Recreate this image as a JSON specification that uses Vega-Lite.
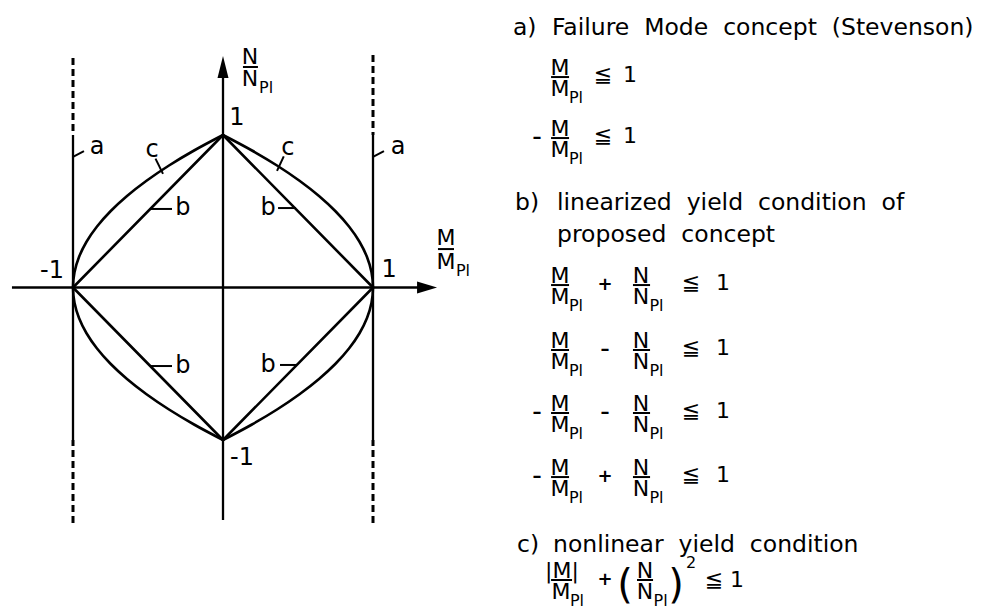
{
  "$schema": "https://vega.github.io/schema/vega-lite/v6.json",
  "width": 984,
  "height": 614,
  "autosize": {"type": "fit", "contains": "padding"},
  "padding": 0,
  "background": "white",
  "config": {"view": {"stroke": null}},
  "datasets": {
    "axes": [
      {"x": -1.407, "y": 0, "x2": 1.38, "y2": 0},
      {"x": 0, "y": -1.525, "x2": 0, "y2": 1.426},
      {"x": -1, "y": -1, "x2": -1, "y2": 1},
      {"x": 1, "y": -1, "x2": 1, "y2": 1}
    ],
    "dashes": [
      {"x": -1, "y": 1.505, "x2": -1, "y2": 1},
      {"x": 1, "y": 1.525, "x2": 1, "y2": 1},
      {"x": -1, "y": -1.544, "x2": -1, "y2": -1},
      {"x": 1, "y": -1.544, "x2": 1, "y2": -1}
    ],
    "diamond": [
      {"x": -1, "y": 0, "x2": 0, "y2": 1},
      {"x": 0, "y": 1, "x2": 1, "y2": 0},
      {"x": 1, "y": 0, "x2": 0, "y2": -1},
      {"x": 0, "y": -1, "x2": -1, "y2": 0}
    ],
    "leaders": [
      {"x": -1, "y": 0.856, "x2": -0.927, "y2": 0.895},
      {"x": 1, "y": 0.856, "x2": 1.073, "y2": 0.895},
      {"x": -0.4, "y": 0.745, "x2": -0.45, "y2": 0.845},
      {"x": 0.36, "y": 0.765, "x2": 0.405, "y2": 0.86},
      {"x": -0.487, "y": 0.515, "x2": -0.34, "y2": 0.515},
      {"x": 0.367, "y": 0.521, "x2": 0.487, "y2": 0.521},
      {"x": -0.487, "y": -0.515, "x2": -0.34, "y2": -0.515},
      {"x": 0.38, "y": -0.508, "x2": 0.493, "y2": -0.508}
    ],
    "bars": [
      {"x": 2.187, "x2": 2.307, "y": 1.38, "y2": 1.38},
      {"x": 2.187, "x2": 2.307, "y": 0.98, "y2": 0.98},
      {"x": 2.187, "x2": 2.307, "y": 0.016, "y2": 0.016},
      {"x": 2.733, "x2": 2.847, "y": 0.016, "y2": 0.016},
      {"x": 2.187, "x2": 2.307, "y": -0.41, "y2": -0.41},
      {"x": 2.733, "x2": 2.847, "y": -0.41, "y2": -0.41},
      {"x": 2.187, "x2": 2.307, "y": -0.823, "y2": -0.823},
      {"x": 2.733, "x2": 2.847, "y": -0.823, "y2": -0.823},
      {"x": 2.187, "x2": 2.307, "y": -1.243, "y2": -1.243},
      {"x": 2.733, "x2": 2.847, "y": -1.243, "y2": -1.243},
      {"x": 2.187, "x2": 2.327, "y": -1.918, "y2": -1.918},
      {"x": 2.76, "x2": 2.867, "y": -1.918, "y2": -1.918},
      {"x": 1.433, "x2": 1.54, "y": 0.252, "y2": 0.252},
      {"x": 0.133, "x2": 0.233, "y": 1.446, "y2": 1.446}
    ],
    "arrows": [
      {"x": 1.427, "y": 0, "dir": "right"},
      {"x": 0, "y": 1.518, "dir": "up"}
    ],
    "curve": [
      {"side": "right", "y": -1, "x": 0},
      {"side": "right", "y": -0.9, "x": 0.19},
      {"side": "right", "y": -0.8, "x": 0.36},
      {"side": "right", "y": -0.7, "x": 0.51},
      {"side": "right", "y": -0.6, "x": 0.64},
      {"side": "right", "y": -0.5, "x": 0.75},
      {"side": "right", "y": -0.4, "x": 0.84},
      {"side": "right", "y": -0.3, "x": 0.91},
      {"side": "right", "y": -0.2, "x": 0.96},
      {"side": "right", "y": -0.1, "x": 0.99},
      {"side": "right", "y": 0, "x": 1},
      {"side": "right", "y": 0.1, "x": 0.99},
      {"side": "right", "y": 0.2, "x": 0.96},
      {"side": "right", "y": 0.3, "x": 0.91},
      {"side": "right", "y": 0.4, "x": 0.84},
      {"side": "right", "y": 0.5, "x": 0.75},
      {"side": "right", "y": 0.6, "x": 0.64},
      {"side": "right", "y": 0.7, "x": 0.51},
      {"side": "right", "y": 0.8, "x": 0.36},
      {"side": "right", "y": 0.9, "x": 0.19},
      {"side": "right", "y": 1, "x": 0},
      {"side": "left", "y": -1, "x": 0},
      {"side": "left", "y": -0.9, "x": -0.19},
      {"side": "left", "y": -0.8, "x": -0.36},
      {"side": "left", "y": -0.7, "x": -0.51},
      {"side": "left", "y": -0.6, "x": -0.64},
      {"side": "left", "y": -0.5, "x": -0.75},
      {"side": "left", "y": -0.4, "x": -0.84},
      {"side": "left", "y": -0.3, "x": -0.91},
      {"side": "left", "y": -0.2, "x": -0.96},
      {"side": "left", "y": -0.1, "x": -0.99},
      {"side": "left", "y": 0, "x": -1},
      {"side": "left", "y": 0.1, "x": -0.99},
      {"side": "left", "y": 0.2, "x": -0.96},
      {"side": "left", "y": 0.3, "x": -0.91},
      {"side": "left", "y": 0.4, "x": -0.84},
      {"side": "left", "y": 0.5, "x": -0.75},
      {"side": "left", "y": 0.6, "x": -0.64},
      {"side": "left", "y": 0.7, "x": -0.51},
      {"side": "left", "y": 0.8, "x": -0.36},
      {"side": "left", "y": 0.9, "x": -0.19},
      {"side": "left", "y": 1, "x": 0}
    ],
    "labels": [
      {"x": 0.093, "y": 1.111, "t": "1"},
      {"x": -1.14, "y": 0.108, "t": "-1"},
      {"x": 1.107, "y": 0.115, "t": "1"},
      {"x": 0.127, "y": -1.118, "t": "-1"},
      {"x": -0.84, "y": 0.921, "t": "a"},
      {"x": 1.167, "y": 0.921, "t": "a"},
      {"x": -0.473, "y": 0.9, "t": "c"},
      {"x": 0.433, "y": 0.913, "t": "c"},
      {"x": -0.267, "y": 0.521, "t": "b"},
      {"x": 0.3, "y": 0.521, "t": "b"},
      {"x": -0.267, "y": -0.515, "t": "b"},
      {"x": 0.3, "y": -0.508, "t": "b"}
    ],
    "formula": [
      {"x": 1.487, "y": 0.325, "t": "M"},
      {"x": 1.487, "y": 0.167, "t": "M"},
      {"x": 0.18, "y": 1.511, "t": "N"},
      {"x": 0.18, "y": 1.367, "t": "N"},
      {"x": 2.247, "y": 1.439, "t": "M"},
      {"x": 2.247, "y": 1.302, "t": "M"},
      {"x": 2.533, "y": 1.393, "t": "≦"},
      {"x": 2.713, "y": 1.393, "t": "1"},
      {"x": 2.247, "y": 1.039, "t": "M"},
      {"x": 2.247, "y": 0.902, "t": "M"},
      {"x": 2.533, "y": 0.993, "t": "≦"},
      {"x": 2.713, "y": 0.993, "t": "1"},
      {"x": 2.247, "y": 0.075, "t": "M"},
      {"x": 2.247, "y": -0.062, "t": "M"},
      {"x": 2.787, "y": 0.075, "t": "N"},
      {"x": 2.787, "y": -0.062, "t": "N"},
      {"x": 3.12, "y": 0.03, "t": "≦"},
      {"x": 3.333, "y": 0.03, "t": "1"},
      {"x": 2.247, "y": -0.351, "t": "M"},
      {"x": 2.247, "y": -0.489, "t": "M"},
      {"x": 2.787, "y": -0.351, "t": "N"},
      {"x": 2.787, "y": -0.489, "t": "N"},
      {"x": 3.12, "y": -0.397, "t": "≦"},
      {"x": 3.333, "y": -0.397, "t": "1"},
      {"x": 2.247, "y": -0.764, "t": "M"},
      {"x": 2.247, "y": -0.902, "t": "M"},
      {"x": 2.787, "y": -0.764, "t": "N"},
      {"x": 2.787, "y": -0.902, "t": "N"},
      {"x": 3.12, "y": -0.81, "t": "≦"},
      {"x": 3.333, "y": -0.81, "t": "1"},
      {"x": 2.247, "y": -1.184, "t": "M"},
      {"x": 2.247, "y": -1.321, "t": "M"},
      {"x": 2.787, "y": -1.184, "t": "N"},
      {"x": 2.787, "y": -1.321, "t": "N"},
      {"x": 3.12, "y": -1.23, "t": "≦"},
      {"x": 3.333, "y": -1.23, "t": "1"},
      {"x": 2.26, "y": -1.859, "t": "|M|"},
      {"x": 2.253, "y": -1.997, "t": "M"},
      {"x": 2.813, "y": -1.859, "t": "N"},
      {"x": 2.813, "y": -1.997, "t": "N"},
      {"x": 3.273, "y": -1.918, "t": "≦"},
      {"x": 3.427, "y": -1.918, "t": "1"}
    ],
    "ops": [
      {"x": 2.093, "y": 0.98, "t": "–"},
      {"x": 2.547, "y": 0.016, "t": "+"},
      {"x": 2.547, "y": -0.41, "t": "–"},
      {"x": 2.093, "y": -0.823, "t": "–"},
      {"x": 2.547, "y": -0.823, "t": "–"},
      {"x": 2.093, "y": -1.243, "t": "–"},
      {"x": 2.547, "y": -1.243, "t": "+"},
      {"x": 2.547, "y": -1.918, "t": "+"}
    ],
    "subs": [
      {"x": 1.6, "y": 0.108, "t": "Pl"},
      {"x": 0.287, "y": 1.308, "t": "Pl"},
      {"x": 2.353, "y": 1.243, "t": "Pl"},
      {"x": 2.353, "y": 0.843, "t": "Pl"},
      {"x": 2.353, "y": -0.121, "t": "Pl"},
      {"x": 2.89, "y": -0.121, "t": "Pl"},
      {"x": 2.353, "y": -0.548, "t": "Pl"},
      {"x": 2.89, "y": -0.548, "t": "Pl"},
      {"x": 2.353, "y": -0.961, "t": "Pl"},
      {"x": 2.89, "y": -0.961, "t": "Pl"},
      {"x": 2.353, "y": -1.38, "t": "Pl"},
      {"x": 2.89, "y": -1.38, "t": "Pl"},
      {"x": 2.36, "y": -2.056, "t": "Pl"},
      {"x": 2.917, "y": -2.056, "t": "Pl"}
    ],
    "parens": [
      {"x": 2.68, "y": -1.957, "t": "("},
      {"x": 3.02, "y": -1.957, "t": ")"}
    ],
    "sups": [
      {"x": 3.12, "y": -1.807, "t": "2"}
    ],
    "lines": [
      {"x": 1.933, "y": 1.656, "t": "a)"},
      {"x": 2.193, "y": 1.656, "t": "Failure\u00a0 Mode\u00a0 concept\u00a0 (Stevenson)"},
      {"x": 1.947, "y": 0.508, "t": "b)"},
      {"x": 2.227, "y": 0.508, "t": "linearized\u00a0 yield\u00a0 condition\u00a0 of"},
      {"x": 2.227, "y": 0.298, "t": "proposed\u00a0 concept"},
      {"x": 1.96, "y": -1.734, "t": "c)"},
      {"x": 2.2, "y": -1.734, "t": "nonlinear\u00a0 yield\u00a0 condition"}
    ]
  },
  "encoding": {
    "x": {"field": "x", "type": "quantitative", "scale": {"domain": [-1.4867, 5.0733], "nice": false, "zero": false}, "axis": null},
    "y": {"field": "y", "type": "quantitative", "scale": {"domain": [-2.141, 1.8852], "nice": false, "zero": false}, "axis": null}
  },
  "layer": [
    {
      "data": {"name": "axes"},
      "mark": {"type": "rule", "color": "black", "strokeWidth": 2.3},
      "encoding": {"x2": {"field": "x2"}, "y2": {"field": "y2"}}
    },
    {
      "data": {"name": "dashes"},
      "mark": {"type": "rule", "color": "black", "strokeWidth": 3, "strokeDash": [7, 4]},
      "encoding": {"x2": {"field": "x2"}, "y2": {"field": "y2"}}
    },
    {
      "data": {"name": "diamond"},
      "mark": {"type": "rule", "color": "black", "strokeWidth": 2.6, "strokeCap": "round"},
      "encoding": {"x2": {"field": "x2"}, "y2": {"field": "y2"}}
    },
    {
      "data": {"name": "leaders"},
      "mark": {"type": "rule", "color": "black", "strokeWidth": 2},
      "encoding": {"x2": {"field": "x2"}, "y2": {"field": "y2"}}
    },
    {
      "data": {"name": "bars"},
      "mark": {"type": "rule", "color": "black", "strokeWidth": 2},
      "encoding": {"x2": {"field": "x2"}, "y2": {"field": "y2"}}
    },
    {
      "data": {"name": "curve"},
      "mark": {"type": "line", "color": "black", "strokeWidth": 2.6, "interpolate": "catmull-rom"},
      "encoding": {"detail": {"field": "side"}, "order": {"field": "y", "type": "quantitative"}}
    },
    {
      "data": {"name": "arrows"},
      "mark": {"type": "point", "filled": true, "color": "black", "size": 400, "opacity": 1, "strokeWidth": 0},
      "encoding": {
        "shape": {"field": "dir", "type": "nominal", "scale": {"domain": ["right", "up"], "range": ["M0,0L-2,-0.6L-2,0.6Z", "M0,0L-0.55,2.2L0.55,2.2Z"]}, "legend": null}
      }
    },
    {
      "data": {"name": "labels"},
      "mark": {"type": "text", "font": "DejaVu Sans", "fontSize": 24, "color": "black", "align": "center", "baseline": "middle"},
      "encoding": {"text": {"field": "t"}}
    },
    {
      "data": {"name": "formula"},
      "mark": {"type": "text", "font": "DejaVu Sans", "fontSize": 22, "color": "black", "align": "center", "baseline": "middle"},
      "encoding": {"text": {"field": "t"}}
    },
    {
      "data": {"name": "ops"},
      "mark": {"type": "text", "font": "DejaVu Sans", "fontSize": 18, "fontWeight": "bold", "color": "black", "align": "center", "baseline": "middle"},
      "encoding": {"text": {"field": "t"}}
    },
    {
      "data": {"name": "subs"},
      "mark": {"type": "text", "font": "DejaVu Sans", "fontSize": 16, "color": "black", "align": "center", "baseline": "middle"},
      "encoding": {"text": {"field": "t"}}
    },
    {
      "data": {"name": "parens"},
      "mark": {"type": "text", "font": "DejaVu Sans", "fontSize": 40, "color": "black", "align": "center", "baseline": "middle"},
      "encoding": {"text": {"field": "t"}}
    },
    {
      "data": {"name": "sups"},
      "mark": {"type": "text", "font": "DejaVu Sans", "fontSize": 16, "color": "black", "align": "center", "baseline": "middle"},
      "encoding": {"text": {"field": "t"}}
    },
    {
      "data": {"name": "lines"},
      "mark": {"type": "text", "font": "DejaVu Sans", "fontSize": 23.5, "color": "black", "align": "left", "baseline": "alphabetic"},
      "encoding": {"text": {"field": "t"}}
    }
  ]
}
